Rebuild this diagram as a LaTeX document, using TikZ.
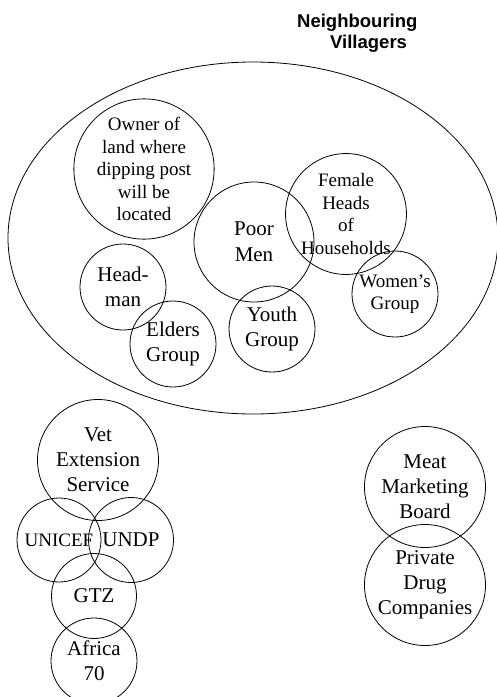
\documentclass[tikz,border=0pt]{standalone}
\usepackage{fontspec}
\setmainfont{Liberation Serif}
\newfontfamily\titlefont{Liberation Sans}
\usepackage{tikz}
\usetikzlibrary{shapes.geometric}
\tikzset{
  grp/.style={draw, circle, line width=0.8pt, inner sep=0pt, align=center,
              font=\fontsize{21}{25}\selectfont},
  grpS/.style={grp, font=\fontsize{19}{22.5}\selectfont},
  ring/.style={draw, ellipse, line width=0.8pt, inner sep=0pt},
  ttl/.style={font=\titlefont\bfseries\fontsize{18.5}{20.5}\selectfont,
              align=left, inner sep=0pt, anchor=north west}
}
\begin{document}
\begin{tikzpicture}[x=1pt, y=-1pt]
\path[use as bounding box, clip] (0,0) rectangle (497,697);
% the village
\node[ttl] (title) at (297,14) {Neighbouring\\\hspace*{33pt}Villagers};
\node[ring, minimum width=490pt, minimum height=352pt] (village) at (253,238) {};
\node[grpS, minimum size=126pt] (owner) at (144,169) {Owner of\\land where\\dipping post\\will be\\located};
\node[grp, minimum size=120pt, font=\fontsize{21}{26}\selectfont] (poor) at (254,242) {Poor\\Men};
\node[grpS, minimum size=120pt] (female) at (346,214) {Female\\Heads\\of\\Households};
\node[grpS, minimum size=86pt] (women) at (395,294) {Women's\\Group};
\node[grp, minimum size=86pt] (head) at (123,287) {Head-\\man};
\node[grp, minimum size=86pt] (elders) at (173,344) {Elders\\Group};
\node[grp, minimum size=86pt] (youth) at (272,329) {Youth\\Group};
% outside agencies
\node[grp, minimum size=121pt] (vet) at (98,460) {Vet\\Extension\\Service};
\node[grpS, minimum size=84pt] (unicef) at (59,540) {UNICEF};
\node[grp, minimum size=85pt] (undp) at (131,540) {UNDP};
\node[grp, minimum size=85pt] (gtz) at (94,596) {GTZ};
\node[grp, minimum size=86pt] (africa) at (94,661) {Africa\\70};
\node[grp, minimum size=121pt] (meat) at (425,487) {Meat\\Marketing\\Board};
\node[grp, minimum size=121pt] (drug) at (425,585) {Private\\Drug\\Companies};
\end{tikzpicture}
\end{document}
